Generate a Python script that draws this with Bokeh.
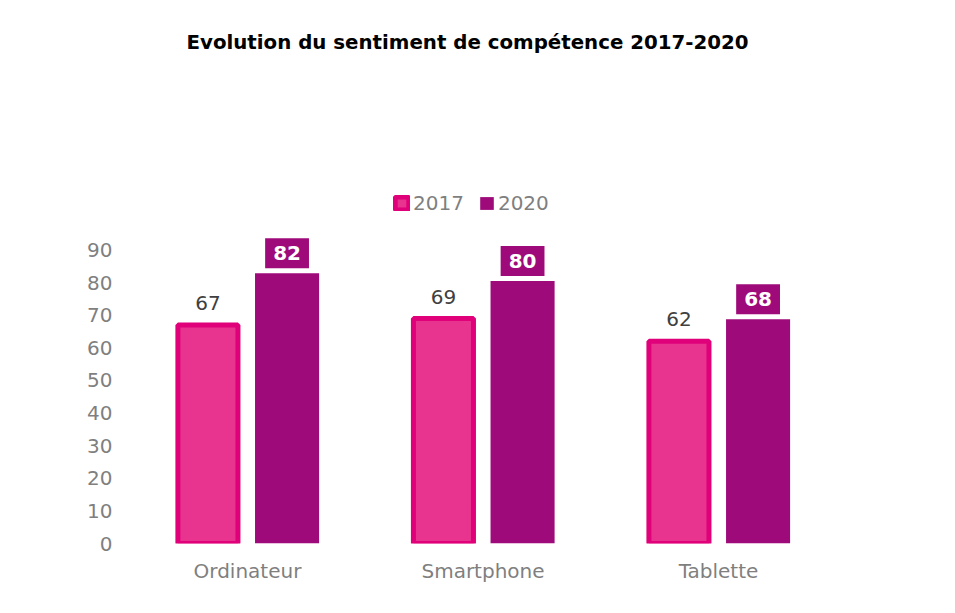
from bokeh.plotting import figure
from bokeh.models import ColumnDataSource, FactorRange, Range1d, Legend, LegendItem, Label, FixedTicker
from bokeh.transform import dodge
from bokeh.core.properties import value
from bokeh.embed import file_html
from bokeh.resources import INLINE

title_text = "Evolution du sentiment de compétence 2017-2020"
categories = ["Ordinateur", "Smartphone", "Tablette"]
years = ["2017", "2020"]
values_2017 = [67, 69, 62]
values_2020 = [82.9, 80.5, 68.8]
labels_2017 = ["67", "69", "62"]
labels_2020 = ["82", "80", "68"]
y_ticks = [0, 10, 20, 30, 40, 50, 60, 70, 80, 90]

C17_FILL = "#E8348F"
C17_LINE = "#E0007A"
C20 = "#9E0A7A"
GRAY = "#7F7F7F"
FONT = "DejaVu Sans"

src = ColumnDataSource(dict(cat=categories, v17=values_2017, v20=values_2020,
                            l17=labels_2017, l20=labels_2020))

p = figure(x_range=FactorRange(factors=categories, range_padding=0.018, range_padding_units="absolute"),
           y_range=Range1d(0, 161),
           frame_width=715, frame_height=525,
           min_border_left=125, min_border_right=92, min_border_top=18, min_border_bottom=44,
           output_backend="svg", toolbar_location=None)

r17 = p.vbar(x=dodge("cat", -0.168, range=p.x_range), top="v17", width=0.255, source=src,
             fill_color=C17_FILL, line_color=C17_LINE, line_width=5)
r20 = p.vbar(x=dodge("cat", 0.168, range=p.x_range), top="v20", width=0.272, source=src,
             fill_color=C20, line_color=None)

p.text(x=dodge("cat", -0.168, range=p.x_range), y="v17", text="l17", source=src,
       y_offset=-22, text_align="center", text_baseline="middle",
       text_font=value(FONT), text_font_size="20px", text_color="#404040")
p.text(x=dodge("cat", 0.168, range=p.x_range), y="v20", text="l20", source=src,
       y_offset=-20, text_align="center", text_baseline="middle",
       text_font=value(FONT), text_font_size="20px", text_font_style="bold", text_color="white",
       background_fill_color=C20, padding=(8, 8))

p.add_layout(Label(x=342, y=501, x_units="screen", y_units="screen", text=title_text,
                   text_align="center", text_baseline="middle", text_font=FONT,
                   text_font_style="bold", text_font_size="19.8px", text_color="black"))

legend = Legend(items=[LegendItem(label=years[0], renderers=[r17]),
                       LegendItem(label=years[1], renderers=[r20])],
                orientation="horizontal", location=(268, 328),
                padding=0, margin=0, spacing=14, label_standoff=3,
                glyph_width=17, glyph_height=16, label_height=20,
                border_line_color=None, background_fill_alpha=0,
                label_text_font=FONT, label_text_font_size="20px", label_text_color=GRAY)
p.add_layout(legend, "center")

p.yaxis.ticker = FixedTicker(ticks=y_ticks)
for ax in (p.xaxis, p.yaxis):
    ax.axis_line_color = None
    ax.major_tick_line_color = None
    ax.minor_tick_line_color = None
    ax.major_label_text_font = FONT
    ax.major_label_text_font_size = "20px"
    ax.major_label_text_color = GRAY
p.yaxis.major_label_standoff = 7
p.xaxis.major_label_standoff = 9
p.xgrid.grid_line_color = None
p.ygrid.grid_line_color = None
p.outline_line_color = None

with open("out.html", "w") as f:
    f.write(file_html(p, INLINE))
